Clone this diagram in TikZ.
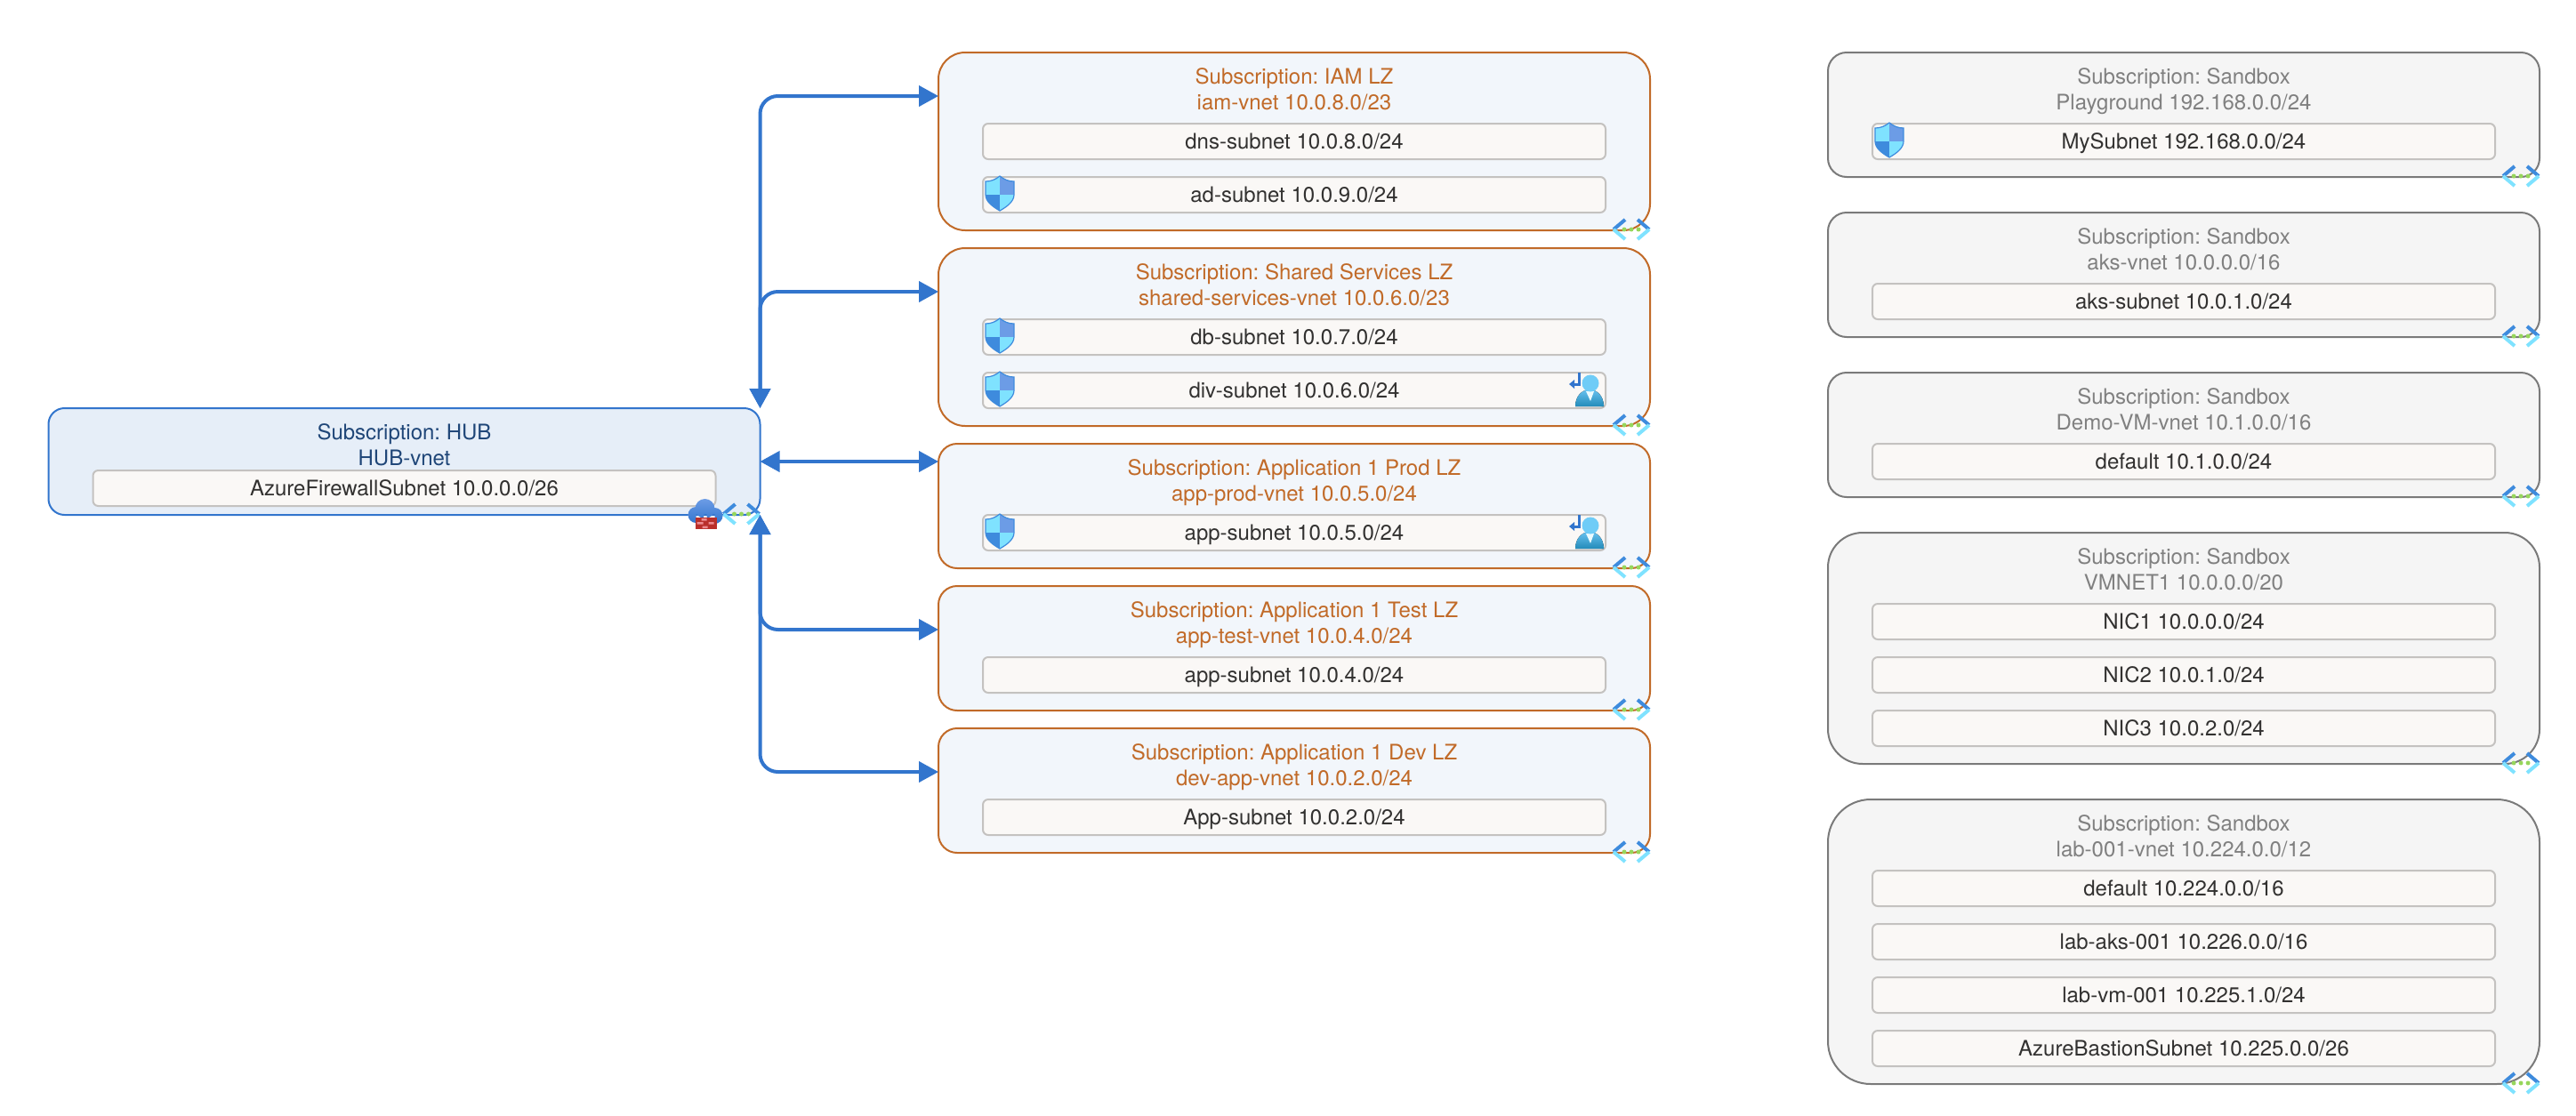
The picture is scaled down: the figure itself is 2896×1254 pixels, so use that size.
\documentclass[tikz,border=0pt]{standalone}
\usepackage{fontspec}
\setmainfont{TeX Gyre Heros}
\usetikzlibrary{arrows.meta}
\frenchspacing

\definecolor{hubblue}{HTML}{3275CD}
\definecolor{hubfill}{HTML}{E6EEF8}
\definecolor{hubtext}{HTML}{1F4678}
\definecolor{lzorange}{HTML}{C16A28}
\definecolor{lzfill}{HTML}{F2F6FB}
\definecolor{sandline}{HTML}{7A7A7A}
\definecolor{sandfill}{HTML}{F5F5F5}
\definecolor{sandtext}{HTML}{808080}
\definecolor{subnetline}{HTML}{C4C2C0}
\definecolor{subnetfill}{HTML}{FAF8F6}
\definecolor{subnettext}{HTML}{323130}
\definecolor{iconblue}{HTML}{3E8BDD}
\definecolor{iconcyan}{HTML}{7FE2FF}
\definecolor{icongreen}{HTML}{96D65C}
\definecolor{iconmid}{HTML}{6C9CE6}
\definecolor{iconbrick}{HTML}{B92F2B}
\definecolor{iconpink}{HTML}{EC8A90}

\tikzset{
   hubbox/.style={draw=hubblue, fill=hubfill, line width=1pt, inner sep=0pt, outer sep=0pt, minimum width=400pt},
   lzbox/.style={draw=lzorange, fill=lzfill, line width=1pt, inner sep=0pt, outer sep=0pt, minimum width=400pt},
   sandbox/.style={draw=sandline, fill=sandfill, line width=1pt, inner sep=0pt, outer sep=0pt, minimum width=400pt},
   subnetbox/.style={draw=subnetline, fill=subnetfill, line width=1pt, rounded corners=3pt, inner sep=0pt, outer sep=0pt, minimum width=350pt, minimum height=20pt, text height=10.6pt, text depth=2.3pt, text=subnettext, font=\fontsize{12}{14.4}\selectfont},
   boxtitle/.style={align=center, inner sep=0pt, text height=27.3pt, text depth=2pt, font=\fontsize{12}{14.4}\selectfont},
   hubtitle/.style={boxtitle, text=hubtext},
   lztitle/.style={boxtitle, text=lzorange},
   sandtitle/.style={boxtitle, text=sandtext},
   hublink/.style={draw=hubblue, line width=2pt, rounded corners=10pt, {Triangle[length=11pt,width=11.5pt]}-{Triangle[length=11pt,width=11.5pt]}},
   vneticon/.pic={
      \draw [iconblue, line width=2pt] (-28, -12) -- (-41, -1) (-14, -12) -- (-1, -1);
      \draw [iconcyan, line width=2pt] (-28, 10) -- (-41, -1) (-14, 10) -- (-1, -1);
      \fill [icongreen] (-29, -1) circle (2.5) (-21, -1) circle (2.5) (-13, -1) circle (2.5);
   },
   shieldicon/.pic={
      \begin{scope}
         \clip (19, -1) .. controls (14, 3) and (9, 5) .. (3, 5) -- (3, 20) .. controls (3, 28) and (12, 34) .. (19, 38) .. controls (26, 34) and (35, 28) .. (35, 20) -- (35, 5) .. controls (29, 5) and (24, 3) .. (19, -1) -- cycle;
         \fill [iconcyan] (3, -1) rectangle (19, 20);
         \fill [iconmid] (19, -1) rectangle (35, 20);
         \fill [iconblue] (3, 20) rectangle (19, 38);
         \fill [iconcyan] (19, 20) rectangle (35, 38);
      \end{scope}
      \draw [iconblue, line width=.6pt] (19, -1) .. controls (14, 3) and (9, 5) .. (3, 5) -- (3, 20) .. controls (3, 28) and (12, 34) .. (19, 38) .. controls (26, 34) and (35, 28) .. (35, 20) -- (35, 5) .. controls (29, 5) and (24, 3) .. (19, -1) -- cycle;
   },
   usericon/.pic={
      \draw [hubblue, line width=1.5pt] (-30, 0) -- (-30, 13) -- (-36, 13);
      \fill [hubblue] (-41, 13) -- (-35, 8) -- (-35, 18) -- cycle;
      \fill [top color=iconcyan!70!hubblue, bottom color=iconblue!70!cyan!80!black] (-34, 38) .. controls (-34, 26) and (-26, 19) .. (-18, 19) .. controls (-10, 19) and (-2, 26) .. (-2, 38) -- cycle;
      \fill [white!85!iconcyan] (-22, 21) -- (-13, 21) -- (-17, 32) -- cycle;
      \fill [iconcyan!75!iconblue] (-17, 12) circle (9.5);
   },
   fwicon/.pic={
      \path [top color=iconmid, bottom color=hubblue] (-62, -7) circle (11) (-72, 0) circle (9) (-51, 1) circle (9) (-72, -1) rectangle (-51, 10);
      \fill [iconbrick] (-73, 3) rectangle (-49, 16);
      \fill [iconpink] (-66, 4) rectangle (-60, 6.5) (-71, 8) rectangle (-64, 10.5) (-58, 8) rectangle (-52, 10.5) (-65, 12.5) rectangle (-59, 15);
   },
}

\begin{document}
\begin{tikzpicture}[x=.5pt, y=-.5pt]
   \useasboundingbox (0, 0) rectangle (2896, 1254);

   % hub
   \node [hubbox, rounded corners=9pt, minimum height=60pt] (hub) at (454.5, 519) {};
   \node [hubtitle] (hubname) at (454.5, 498) {Subscription: HUB\\HUB-vnet};
   \node [subnetbox] (firewall) at (454.5, 549) {AzureFirewallSubnet 10.0.0.0/26};

   % landing zones
   \node [lzbox, rounded corners=15pt, minimum height=100pt] (iam) at (1455, 159) {};
   \node [lztitle] (iamname) at (1455, 98) {Subscription: IAM LZ\\iam-vnet 10.0.8.0/23};
   \node [subnetbox] (dns) at (1455, 159) {dns-subnet 10.0.8.0/24};
   \node [subnetbox] (ad) at (1455, 219) {ad-subnet 10.0.9.0/24};

   \node [lzbox, rounded corners=15pt, minimum height=100pt] (shared) at (1455, 379) {};
   \node [lztitle] (sharedname) at (1455, 318) {Subscription: Shared Services LZ\\shared-services-vnet 10.0.6.0/23};
   \node [subnetbox] (db) at (1455, 379) {db-subnet 10.0.7.0/24};
   \node [subnetbox] (div) at (1455, 439) {div-subnet 10.0.6.0/24};

   \node [lzbox, rounded corners=10.5pt, minimum height=70pt] (prod) at (1455, 569) {};
   \node [lztitle] (prodname) at (1455, 538) {Subscription: Application 1 Prod LZ\\app-prod-vnet 10.0.5.0/24};
   \node [subnetbox] (prodapp) at (1455, 599) {app-subnet 10.0.5.0/24};

   \node [lzbox, rounded corners=10.5pt, minimum height=70pt] (test) at (1455, 729) {};
   \node [lztitle] (testname) at (1455, 698) {Subscription: Application 1 Test LZ\\app-test-vnet 10.0.4.0/24};
   \node [subnetbox] (testapp) at (1455, 759) {app-subnet 10.0.4.0/24};

   \node [lzbox, rounded corners=10.5pt, minimum height=70pt] (dev) at (1455, 889) {};
   \node [lztitle] (devname) at (1455, 858) {Subscription: Application 1 Dev LZ\\dev-app-vnet 10.0.2.0/24};
   \node [subnetbox] (devapp) at (1455, 919) {App-subnet 10.0.2.0/24};

   % sandboxes
   \node [sandbox, rounded corners=10.5pt, minimum height=70pt] (play) at (2455, 129) {};
   \node [sandtitle] (playname) at (2455, 98) {Subscription: Sandbox\\Playground 192.168.0.0/24};
   \node [subnetbox] (mysubnet) at (2455, 159) {MySubnet 192.168.0.0/24};

   \node [sandbox, rounded corners=10.5pt, minimum height=70pt] (aks) at (2455, 309) {};
   \node [sandtitle] (aksname) at (2455, 278) {Subscription: Sandbox\\aks-vnet 10.0.0.0/16};
   \node [subnetbox] (akssub) at (2455, 339) {aks-subnet 10.0.1.0/24};

   \node [sandbox, rounded corners=10.5pt, minimum height=70pt] (demo) at (2455, 489) {};
   \node [sandtitle] (demoname) at (2455, 458) {Subscription: Sandbox\\Demo-VM-vnet 10.1.0.0/16};
   \node [subnetbox] (demosub) at (2455, 519) {default 10.1.0.0/24};

   \node [sandbox, rounded corners=19.5pt, minimum height=130pt] (vmnet) at (2455, 729) {};
   \node [sandtitle] (vmnetname) at (2455, 638) {Subscription: Sandbox\\VMNET1 10.0.0.0/20};
   \node [subnetbox] (nicone) at (2455, 699) {NIC1 10.0.0.0/24};
   \node [subnetbox] (nictwo) at (2455, 759) {NIC2 10.0.1.0/24};
   \node [subnetbox] (nicthree) at (2455, 819) {NIC3 10.0.2.0/24};

   \node [sandbox, rounded corners=24pt, minimum height=160pt] (lab) at (2455, 1059) {};
   \node [sandtitle] (labname) at (2455, 938) {Subscription: Sandbox\\lab-001-vnet 10.224.0.0/12};
   \node [subnetbox] (labdefault) at (2455, 999) {default 10.224.0.0/16};
   \node [subnetbox] (labaks) at (2455, 1059) {lab-aks-001 10.226.0.0/16};
   \node [subnetbox] (labvm) at (2455, 1119) {lab-vm-001 10.225.1.0/24};
   \node [subnetbox] (bastion) at (2455, 1179) {AzureBastionSubnet 10.225.0.0/26};

   % icons
   \pic at (hub.south east) {vneticon};
   \pic at (hub.south east) {fwicon};
   \pic at (iam.south east) {vneticon};
   \pic at (shared.south east) {vneticon};
   \pic at (prod.south east) {vneticon};
   \pic at (test.south east) {vneticon};
   \pic at (dev.south east) {vneticon};
   \pic at (play.south east) {vneticon};
   \pic at (aks.south east) {vneticon};
   \pic at (demo.south east) {vneticon};
   \pic at (vmnet.south east) {vneticon};
   \pic at (lab.south east) {vneticon};
   \pic at (ad.north west) {shieldicon};
   \pic at (db.north west) {shieldicon};
   \pic at (div.north west) {shieldicon};
   \pic at (prodapp.north west) {shieldicon};
   \pic at (mysubnet.north west) {shieldicon};
   \pic at (div.north east) {usericon};
   \pic at (prodapp.north east) {usericon};

   % peerings
   \coordinate (iamport) at ([yshift=25.5pt]iam.west);
   \coordinate (sharedport) at ([yshift=25.5pt]shared.west);
   \coordinate (testport) at ([yshift=10.5pt]test.west);
   \coordinate (devport) at ([yshift=10.5pt]dev.west);
   \draw [hublink] (hub.north east) |- (iamport);
   \draw [hublink] (hub.north east) |- (sharedport);
   \draw [hublink] (hub.east) -- (hub.east -| prod.west);
   \draw [hublink] (hub.south east) |- (testport);
   \draw [hublink] (hub.south east) |- (devport);
\end{tikzpicture}
\end{document}
